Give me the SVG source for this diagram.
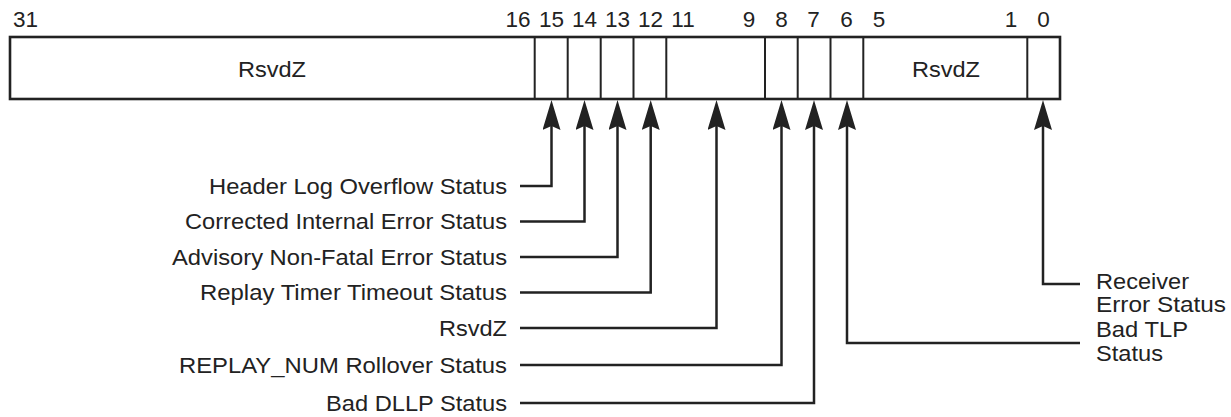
<svg xmlns="http://www.w3.org/2000/svg" width="1231" height="417" viewBox="0 0 1231 417">
<style>
  text { font-family: "Liberation Sans", Arial, sans-serif; font-size: 22.5px; fill: #222; }
  .num { text-anchor: middle; }
  .lbl { text-anchor: end; }
  .box { fill: #fff; stroke: #222; stroke-width: 2.6; }
  .div { stroke: #222; stroke-width: 2; fill: none; }
  .conn { stroke: #222; stroke-width: 2.5; fill: none; marker-end: url(#ah); }
</style>
<defs>
  <marker id="ah" markerUnits="userSpaceOnUse" viewBox="0 0 30 18" markerWidth="30" markerHeight="18" refX="18" refY="9" orient="auto">
    <path d="M0,0 L30,9 L0,18 L4,9 Z" fill="#222"/>
  </marker>
</defs>
<rect width="1231" height="417" fill="#fff"/>

<g id="bit-numbers">
  <text class="num" x="25.5" y="27">31</text>
  <text class="num" x="518" y="27">16</text>
  <text class="num" x="551.5" y="27">15</text>
  <text class="num" x="584.5" y="27">14</text>
  <text class="num" x="617.5" y="27">13</text>
  <text class="num" x="650.5" y="27">12</text>
  <text class="num" x="683" y="27">11</text>
  <text class="num" x="749" y="27">9</text>
  <text class="num" x="781.5" y="27">8</text>
  <text class="num" x="813.5" y="27">7</text>
  <text class="num" x="846.5" y="27">6</text>
  <text class="num" x="879" y="27">5</text>
  <text class="num" x="1011" y="27">1</text>
  <text class="num" x="1043.5" y="27">0</text>
</g>

<g id="register">
  <rect class="box" x="10" y="37" width="1050" height="62"/>
  <path class="div" d="M534.7 37V99 M567.7 37V99 M600.7 37V99 M633.5 37V99 M666.3 37V99 M765 37V99 M797.7 37V99 M830.5 37V99 M863.3 37V99 M1027.3 37V99"/>
  <text class="num" x="272" y="76.5" textLength="68" lengthAdjust="spacingAndGlyphs">RsvdZ</text>
  <text class="num" x="946" y="76.5" textLength="68" lengthAdjust="spacingAndGlyphs">RsvdZ</text>
</g>

<g id="connectors">
  <path class="conn" d="M520 186 H551.5 V112"/>
  <path class="conn" d="M520 221.5 H584.5 V112"/>
  <path class="conn" d="M520 257 H617.5 V112"/>
  <path class="conn" d="M520 292.5 H650.7 V112"/>
  <path class="conn" d="M520 328 H716.5 V112"/>
  <path class="conn" d="M520 365 H781.5 V112"/>
  <path class="conn" d="M520 403 H814 V112"/>
  <path class="conn" d="M1080 343 H847 V112"/>
  <path class="conn" d="M1080 284 H1043 V112"/>
</g>

<g id="label-header-log-overflow">
  <text class="lbl" x="507" y="193.5" textLength="298" lengthAdjust="spacingAndGlyphs">Header Log Overflow Status</text>
</g>
<g id="label-corrected-internal">
  <text class="lbl" x="507" y="229" textLength="322" lengthAdjust="spacingAndGlyphs">Corrected Internal Error Status</text>
</g>
<g id="label-advisory">
  <text class="lbl" x="507" y="264.5" textLength="335" lengthAdjust="spacingAndGlyphs">Advisory Non-Fatal Error Status</text>
</g>
<g id="label-replay-timer">
  <text class="lbl" x="507" y="300" textLength="307" lengthAdjust="spacingAndGlyphs">Replay Timer Timeout Status</text>
</g>
<g id="label-rsvdz">
  <text class="lbl" x="507" y="335.5" textLength="68" lengthAdjust="spacingAndGlyphs">RsvdZ</text>
</g>
<g id="label-replay-num">
  <text class="lbl" x="507" y="372.5" textLength="328" lengthAdjust="spacingAndGlyphs">REPLAY_NUM Rollover Status</text>
</g>
<g id="label-bad-dllp">
  <text class="lbl" x="507" y="410.5" textLength="181" lengthAdjust="spacingAndGlyphs">Bad DLLP Status</text>
</g>
<g id="label-receiver-error">
  <text x="1096" y="288.5" textLength="93" lengthAdjust="spacingAndGlyphs">Receiver</text>
  <text x="1096" y="312" textLength="130" lengthAdjust="spacingAndGlyphs">Error Status</text>
</g>
<g id="label-bad-tlp">
  <text x="1096" y="337" textLength="92" lengthAdjust="spacingAndGlyphs">Bad TLP</text>
  <text x="1096" y="361" textLength="67" lengthAdjust="spacingAndGlyphs">Status</text>
</g>
</svg>
